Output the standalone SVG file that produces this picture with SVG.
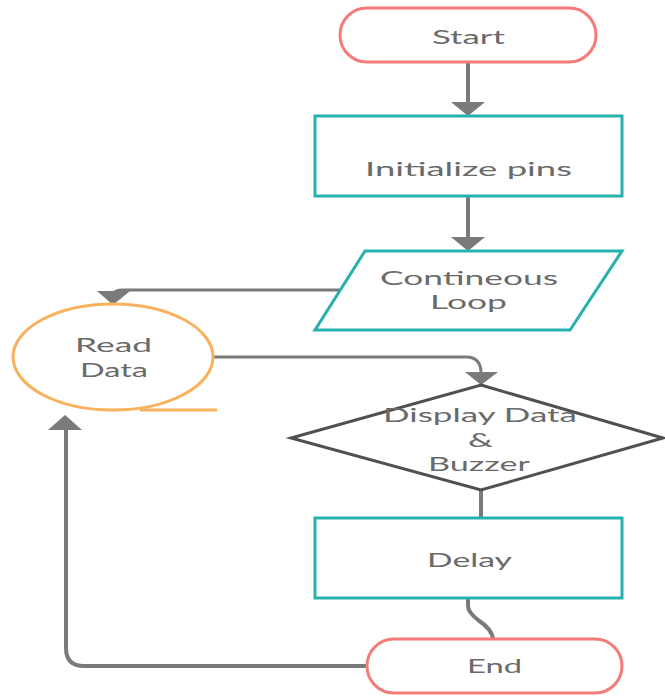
<svg xmlns="http://www.w3.org/2000/svg" width="665" height="696" viewBox="0 0 665 696">
<defs>
<style>
.t{font-family:Lato,"Open Sans",sans-serif;font-size:19.5px;fill:#6a6a6a;text-anchor:middle}
.term{fill:#fff;stroke:#f47b78;stroke-width:3}
.proc{fill:#fff;stroke:#27b1ad;stroke-width:3}
.conn{fill:none;stroke:#7a7a7a;stroke-width:4}
.thin{fill:none;stroke:#7a7a7a;stroke-width:3}
.head{fill:#7a7a7a}
</style>
</defs>
<rect width="665" height="696" fill="#fff"/>
<g id="connectors">
<line class="conn" x1="468" y1="62" x2="468" y2="104"/>
<polygon class="head" points="451,102 485,102 468,116"/>
<line class="conn" x1="468" y1="196" x2="468" y2="239"/>
<polygon class="head" points="451,237 485,237 468,251"/>
<path class="thin" d="M340,290 H122 Q113,290 113,296"/>
<polygon class="head" points="97,291 130,291 113,305"/>
<path class="thin" d="M213,357 H466 Q481,357 481,373"/>
<polygon class="head" points="465,372 498,372 481,385"/>
<line class="conn" x1="481" y1="490" x2="481" y2="523"/>
<path class="conn" d="M468,598 V606 Q468,612 478,620 Q493,630 493,640"/>
<path class="conn" d="M367,666 H84 Q66,666 66,648 V428"/>
<polygon class="head" points="48,430 82,430 65,415"/>
</g>
<g id="start">
<rect class="term" x="340" y="8" width="256" height="54" rx="27"/>
<text class="t" x="468.5" y="44" textLength="73" lengthAdjust="spacingAndGlyphs">Start</text>
</g>
<g id="init">
<rect class="proc" x="315" y="116" width="307" height="80"/>
<text class="t" x="468.5" y="176" textLength="207" lengthAdjust="spacingAndGlyphs">Initialize pins</text>
</g>
<g id="loop">
<polygon class="proc" points="365,251 622,251 570,330 315,330"/>
<text class="t" x="469" y="285" textLength="178" lengthAdjust="spacingAndGlyphs">Contineous</text>
<text class="t" x="468.5" y="309" textLength="77" lengthAdjust="spacingAndGlyphs">Loop</text>
</g>
<g id="read">
<ellipse cx="113" cy="357" rx="100" ry="53" fill="#fff" stroke="#f8b15c" stroke-width="3"/>
<line x1="140" y1="410" x2="217" y2="410" stroke="#f8b15c" stroke-width="3"/>
<text class="t" x="113.5" y="352" textLength="77" lengthAdjust="spacingAndGlyphs">Read</text>
<text class="t" x="114" y="377" textLength="68" lengthAdjust="spacingAndGlyphs">Data</text>
</g>
<g id="display">
<polygon points="481,385 663,438 481,490 291,438" fill="#fff" stroke="#505050" stroke-width="3"/>
<text class="t" x="480" y="422" textLength="194" lengthAdjust="spacingAndGlyphs">Display Data</text>
<text class="t" x="480.5" y="447" textLength="25" lengthAdjust="spacingAndGlyphs">&amp;</text>
<text class="t" x="479" y="471" textLength="102" lengthAdjust="spacingAndGlyphs">Buzzer</text>
</g>
<g id="delay">
<rect class="proc" x="315" y="518" width="307" height="80"/>
<text class="t" x="469.5" y="567" textLength="85" lengthAdjust="spacingAndGlyphs">Delay</text>
</g>
<g id="end">
<rect class="term" x="367" y="639" width="255" height="54" rx="27"/>
<text class="t" x="494.5" y="673" textLength="55" lengthAdjust="spacingAndGlyphs">End</text>
</g>
</svg>
